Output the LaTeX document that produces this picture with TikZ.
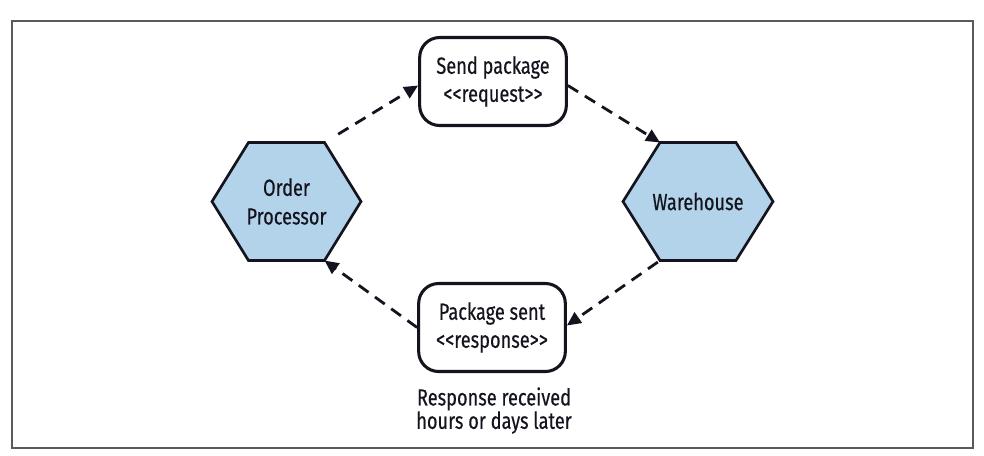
\documentclass[tikz,border=0pt]{standalone}
\usepackage{fontspec}
\setmainfont{Fira Sans}[FakeStretch=0.78,FakeBold=0.4]
\usetikzlibrary{arrows.meta,calc}
\definecolor{hexfill}{RGB}{178,211,234}
\definecolor{ink}{RGB}{20,20,30}
\definecolor{framegray}{RGB}{90,90,90}
\tikzset{
  hexshape/.style={draw=ink,line width=2pt,fill=hexfill,line join=miter},
  hextext/.style={align=center,font=\fontsize{17.5}{21.5}\selectfont,text=ink,inner sep=0pt},
  msgbox/.style={draw=ink,line width=2.3pt,rounded corners=15pt,fill=white,
    minimum width=110pt,minimum height=66pt,align=center,
    font=\fontsize{17.5}{21}\selectfont,text=ink,inner sep=0pt},
  notetext/.style={align=center,font=\fontsize{17.5}{17.5}\selectfont,text=ink,inner sep=0pt},
  conn/.style={draw=ink,line width=2.1pt,dash pattern=on 9pt off 6pt,
    -{Triangle[length=10.5pt,width=9.5pt]}},
}
\begin{document}
\begin{tikzpicture}[x=0.75pt,y=-0.75pt]
\useasboundingbox (0,0) rectangle (984,455);
\draw[framegray,line width=1.1pt] (12,21) rectangle (973,448);
% Order Processor hexagon
\coordinate (op-l) at (212,201.5);
\coordinate (op-tl) at (248.5,142.5);
\coordinate (op-tr) at (324.5,142.5);
\coordinate (op-r) at (361,201.5);
\coordinate (op-br) at (324.5,260.5);
\coordinate (op-bl) at (248.5,260.5);
\draw[hexshape] (op-l) -- (op-tl) -- (op-tr) -- (op-r) -- (op-br) -- (op-bl) -- cycle;
\node[hextext] (op) at (286.5,201.5) {Order\\Processor};
% Warehouse hexagon
\coordinate (wh-l) at (623,201.5);
\coordinate (wh-tl) at (660,142.5);
\coordinate (wh-tr) at (736,142.5);
\coordinate (wh-r) at (773,201.5);
\coordinate (wh-br) at (736,260.5);
\coordinate (wh-bl) at (660,260.5);
\draw[hexshape] (wh-l) -- (wh-tl) -- (wh-tr) -- (wh-r) -- (wh-br) -- (wh-bl) -- cycle;
\node[hextext] (wh) at (698,201.5) {Warehouse};
% message boxes
\node[msgbox] (send) at (493,81.5) {Send package\\{<}{<}request{>}{>}};
\node[msgbox] (sent) at (492,327.5) {Package sent\\{<}{<}response{>}{>}};
\node[notetext,anchor=north] (note) at (494,387) {Response received\\hours or days later};
% connectors
\draw[conn,shorten <=12pt] (op-tr) -- ($(send.west)+(0,4)$);
\draw[conn] ($(send.east)+(0,4)$) -- (wh-tl);
\draw[conn,shorten <=2pt] (wh-bl) -- ($(sent.east)+(0,-2)$);
\draw[conn] (sent.west) -- (op-br);
\end{tikzpicture}
\end{document}
